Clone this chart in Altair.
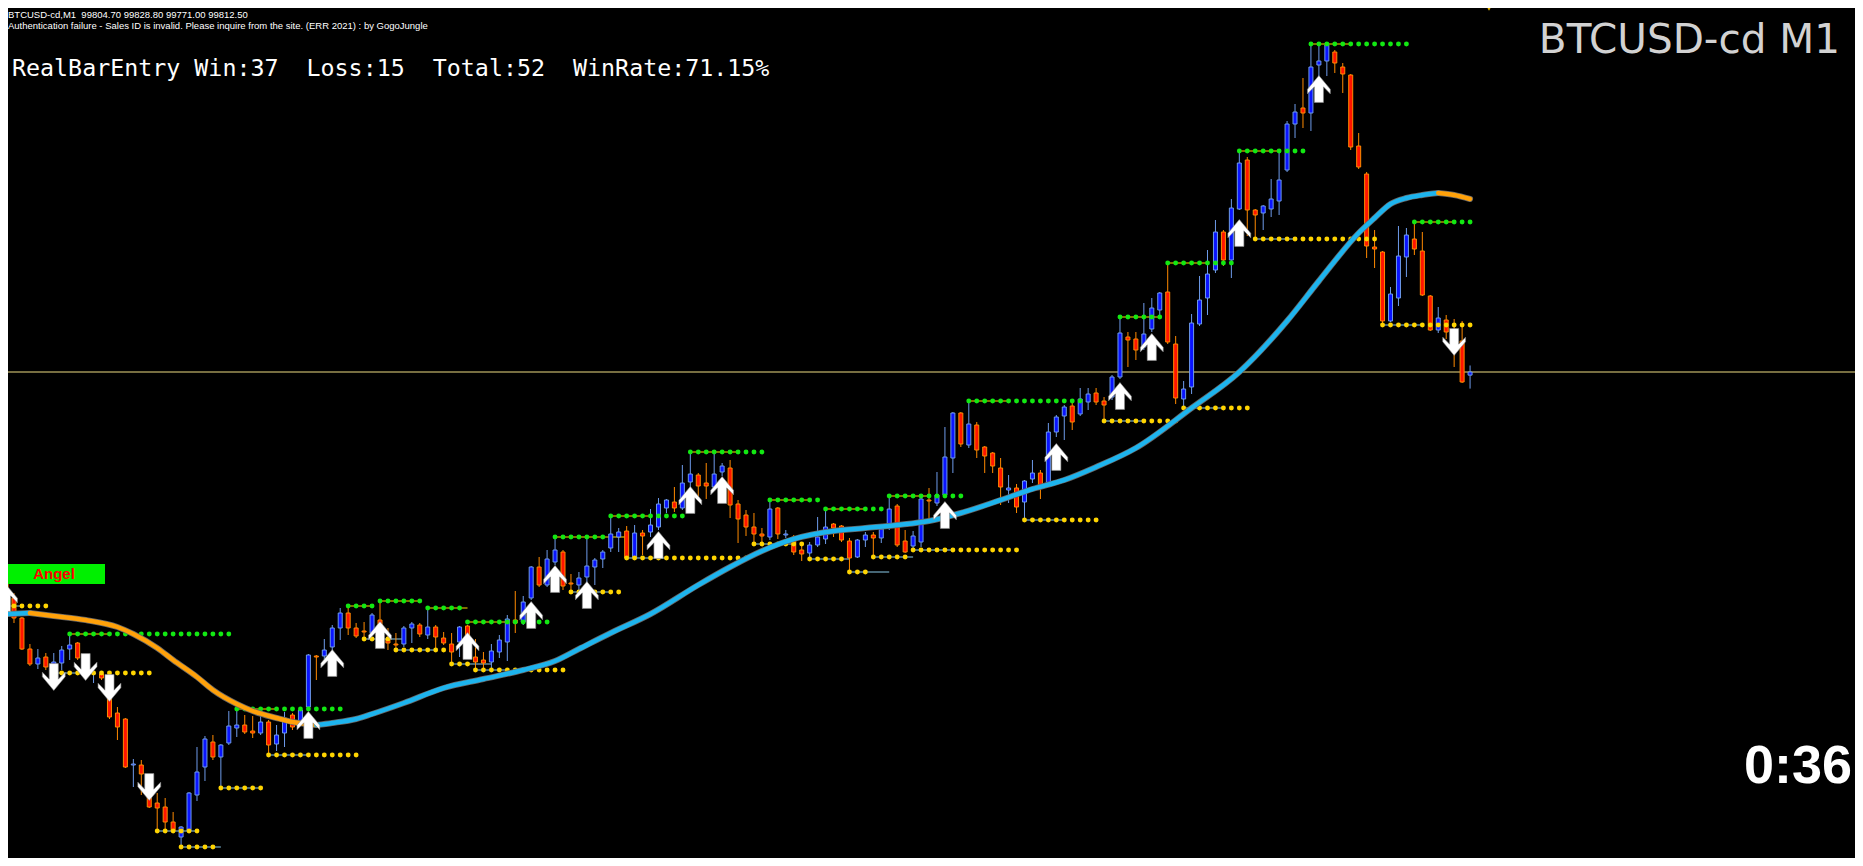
import altair as alt
import pandas as pd

W, H = 1847, 850
OFF = 8  # page margin: reference pixel (X, Y) sits at chart pixel (X - 8, Y - 8)


def px(v):
    return v - OFF


def py(v):
    return v - OFF


# ---------------- candle data (BTCUSD-cd, M1) ----------------
opens = [99307.5, 99247.5, 99197.5, 99120, 99082.5, 99100, 99075, 99085, 99120, 99135,
         99092.5, 99057.5, 99057.5, 99000, 98960, 98945, 98830, 98830, 98760, 98735,
         98725, 98687.5, 98650, 98665, 98755, 98825, 98887.5, 98850, 98885, 98922.5,
         98930, 98915, 98910, 98937.5, 98882.5, 98910, 98955, 98937.5, 98975, 99102.5,
         99102.5, 99125, 99172.5, 99210, 99172.5, 99165, 99160, 99192.5, 99145, 99132.5,
         99132.5, 99172.5, 99180, 99155, 99175, 99147.5, 99132.5, 99137.5, 99177.5, 99100,
         99092.5, 99087.5, 99112.5, 99137.5, 99192.5, 99187.5, 99247.5, 99325, 99280, 99337.5,
         99362.5, 99285, 99280, 99300, 99325, 99345, 99372.5, 99400, 99415, 99347.5,
         99410, 99412.5, 99425, 99472.5, 99487.5, 99472.5, 99537.5, 99555, 99535, 99525,
         99562.5, 99572.5, 99482.5, 99455, 99425, 99407.5, 99400, 99472.5, 99405, 99400,
         99367.5, 99360, 99380, 99395, 99432.5, 99427.5, 99390, 99350, 99392.5, 99405,
         99397.5, 99425, 99477.5, 99390, 99377.5, 99387.5, 99492.5, 99485, 99505, 99597.5,
         99710, 99630, 99680, 99625, 99610, 99572.5, 99517.5, 99522.5, 99487.5, 99545,
         99560, 99530, 99662.5, 99702.5, 99727.5, 99707.5, 99737.5, 99760, 99740, 99750,
         99800, 99900, 99895, 99875, 99920, 99967.5, 100012.5, 99882.5, 99745, 99775,
         99932.5, 99997.5, 100067.5, 100162.5, 100092.5, 100220, 100342.5, 100217.5, 100210, 100220,
         100240, 100317.5, 100432.5, 100472.5, 100460, 100580, 100590, 100612.5, 100575, 100555,
         100377.5, 100307.5, 100125, 100112.5, 99940, 99997.5, 100100, 100145, 100115, 100002.5,
         99917.5, 99942.5, 99917.5, 99890, 99804.70]
highs = [99327.5, 99260, 99200, 99132.5, 99120, 99110, 99110, 99127.5, 99155, 99137.5,
         99105, 99072.5, 99060, 99017.5, 98975, 98947.5, 98845, 98842.5, 98780, 98760,
         98747.5, 98712.5, 98677.5, 98762.5, 98875, 98902.5, 98905, 98882.5, 98965, 98972.5,
         98955, 98952.5, 98955, 98942.5, 98930, 98962.5, 98960, 98975, 99107.5, 99105,
         99145, 99180, 99222.5, 99225, 99185, 99187.5, 99210, 99235, 99172.5, 99160,
         99177.5, 99187.5, 99185, 99222.5, 99180, 99162.5, 99160, 99177.5, 99180, 99145,
         99112.5, 99132.5, 99155, 99205, 99265, 99252.5, 99327.5, 99350, 99367.5, 99395,
         99367.5, 99307.5, 99312.5, 99395, 99347.5, 99367.5, 99452.5, 99422.5, 99427.5, 99430,
         99417.5, 99470, 99497.5, 99495, 99525, 99580, 99610, 99560, 99585, 99610,
         99585, 99592.5, 99492.5, 99467.5, 99460, 99422.5, 99487.5, 99475, 99417.5, 99405,
         99382.5, 99387.5, 99450, 99467.5, 99435, 99430, 99397.5, 99395, 99412.5, 99412.5,
         99430, 99502.5, 99482.5, 99417.5, 99415, 99500, 99522.5, 99562.5, 99675, 99712.5,
         99712.5, 99737.5, 99687.5, 99627.5, 99612.5, 99597.5, 99555, 99532.5, 99542.5, 99592.5,
         99567.5, 99685, 99705, 99730, 99735, 99772.5, 99772.5, 99772.5, 99750, 99805,
         99950, 99912.5, 99912.5, 99985, 99997.5, 100012.5, 100085, 99902.5, 99790, 99957.5,
         100052.5, 100117.5, 100192.5, 100167.5, 100245, 100362.5, 100350, 100220, 100230, 100295,
         100362.5, 100440, 100482.5, 100547.5, 100630, 100630, 100635, 100617.5, 100585, 100557.5,
         100410, 100312.5, 100167.5, 100115, 100025, 100177.5, 100172.5, 100185, 100162.5, 100005,
         99975, 99955, 99945, 99940, 99828.80]
lows = [99235, 99185, 99117.5, 99077.5, 99070, 99067.5, 99067.5, 99067.5, 99092.5, 99092.5,
        99055, 99035, 99042.5, 98945, 98892.5, 98822.5, 98775, 98755, 98722.5, 98662.5,
        98662.5, 98662.5, 98627.5, 98662.5, 98740, 98790, 98842.5, 98767.5, 98880, 98900,
        98907.5, 98897.5, 98905, 98855, 98865, 98875, 98917.5, 98930, 98972.5, 99042.5,
        99095, 99117.5, 99142.5, 99155, 99147.5, 99142.5, 99155, 99155, 99117.5, 99117.5,
        99125, 99135, 99150, 99145, 99117.5, 99130, 99080, 99100, 99130, 99067.5,
        99067.5, 99067.5, 99097.5, 99090, 99160, 99180, 99242.5, 99275, 99275, 99330,
        99267.5, 99260, 99267.5, 99275, 99280, 99322.5, 99362.5, 99362.5, 99342.5, 99342.5,
        99355, 99400, 99417.5, 99460, 99462.5, 99467.5, 99497.5, 99500, 99495, 99517.5,
        99552.5, 99447.5, 99385, 99402.5, 99382.5, 99382.5, 99392.5, 99395, 99397.5, 99355,
        99340, 99340, 99375, 99382.5, 99400, 99387.5, 99312.5, 99347.5, 99375, 99350,
        99385, 99417.5, 99375, 99360, 99365, 99375, 99447.5, 99477.5, 99500, 99560,
        99625, 99622.5, 99597.5, 99560, 99560, 99480, 99485, 99460, 99442.5, 99535,
        99495, 99525, 99650, 99642.5, 99667.5, 99702.5, 99717.5, 99730, 99692.5, 99742.5,
        99795, 99825, 99842.5, 99867.5, 99912.5, 99950, 99882.5, 99732.5, 99722.5, 99757.5,
        99927.5, 99955, 100060, 100077.5, 100047.5, 100217.5, 100152.5, 100142.5, 100167.5, 100200,
        100205, 100312.5, 100397.5, 100422.5, 100415, 100515, 100552.5, 100560, 100510, 100367.5,
        100320, 100097.5, 100072.5, 99932.5, 99937.5, 99977.5, 100050, 100105, 100002.5, 99915,
        99910, 99895, 99825, 99785, 99771.00]
closes = [99242.5, 99197.5, 99120, 99082.5, 99097.5, 99075, 99087.5, 99117.5, 99130, 99097.5,
          99082.5, 99060, 99047.5, 98950, 98925, 98825, 98832.5, 98807.5, 98725, 98722.5,
          98687.5, 98665, 98675, 98760, 98812.5, 98895, 98850, 98880, 98927.5, 98930,
          98912.5, 98910, 98937.5, 98880, 98905, 98947.5, 98925, 98967.5, 99105, 99100,
          99117.5, 99172.5, 99210, 99172.5, 99152.5, 99162.5, 99205, 99160, 99135, 99130,
          99172.5, 99182.5, 99157.5, 99175, 99150, 99135, 99112.5, 99175, 99150, 99087.5,
          99085, 99115, 99142.5, 99195, 99185, 99237.5, 99325, 99280, 99345, 99367.5,
          99277.5, 99282.5, 99297.5, 99327.5, 99342.5, 99362.5, 99407.5, 99412.5, 99347.5, 99410,
          99402.5, 99430, 99482.5, 99492.5, 99472.5, 99535, 99557.5, 99527.5, 99527.5, 99557.5,
          99577.5, 99480, 99445, 99425, 99407.5, 99402.5, 99470, 99407.5, 99407.5, 99362.5,
          99357.5, 99380, 99400, 99425, 99422.5, 99392.5, 99347.5, 99392.5, 99405, 99397.5,
          99420, 99470, 99380, 99362.5, 99402.5, 99495, 99490, 99505, 99600, 99710,
          99632.5, 99682.5, 99617.5, 99602.5, 99577.5, 99525, 99522.5, 99475, 99540, 99560,
          99525, 99662.5, 99700, 99725, 99687.5, 99745, 99757.5, 99737.5, 99730, 99800,
          99910, 99892.5, 99867.5, 99907.5, 99972.5, 100010, 99887.5, 99747.5, 99770, 99935,
          99992.5, 100057.5, 100162.5, 100092.5, 100222.5, 100335, 100217.5, 100205, 100227.5, 100245,
          100292.5, 100432.5, 100462.5, 100460, 100575, 100590, 100630, 100585, 100557.5, 100375,
          100325, 100127.5, 100120, 99940, 100007.5, 100102.5, 100155, 100120, 100005, 99917.5,
          99947.5, 99912.5, 99905, 99787.5, 99812.50]

# ---------------- moving average (read at sampled bars) ----------------
ma_bar = [0, 3, 6, 10, 14, 16, 19, 21, 24, 26, 29, 31, 34, 36, 39, 41, 44, 46, 50, 55,
          60, 65, 69, 72, 76, 81, 87, 91, 95, 99, 104, 108, 112, 116, 120, 125, 129, 133, 137, 142,
          149, 155, 161, 165, 170, 172, 174, 176, 178, 180, 182, 184]
ma_val = [99207.5, 99210, 99202.5, 99192.5, 99175, 99157.5, 99122.5, 99092.5, 99050, 99017.5,
          98982.5, 98965, 98947.5, 98937.5, 98930, 98935, 98945, 98957.5, 98985, 99022.5,
          99045, 99067.5, 99090, 99120, 99160, 99207.5, 99280, 99325, 99365, 99395,
          99415, 99422.5, 99430, 99440, 99460, 99492.5, 99520, 99542.5, 99575, 99622.5,
          99722.5, 99812.5, 99940, 100040, 100160, 100197.5, 100232.5, 100247.5, 100255, 100260,
          100255, 100245]

# ---------------- resistance (green) / support (yellow) levels ----------------
res_price = [99312.5, 99157.5, 98970, 99227.5, 99240, 99222.5, 99187.5, 99400, 99452.5, 99612.5,
             99492.5, 99470, 99502.5, 99740, 99950, 100085, 100365, 100632.5, 100187.5]
res_start = [0, 8, 29, 43, 47, 53, 58, 69, 76, 86, 96, 103, 111, 121, 140, 146, 155, 164, 177]
res_end = [4, 28, 42, 46, 52, 57, 68, 75, 85, 95, 102, 110, 120, 135, 145, 154, 163, 176, 184]
res_line_end = [4, 13, 34, 46, 52, 58, 63, 78, 81, 92, 101, 108, 116, 126, 145, 151, 160, 169, 182]

sup_price = [99227.5, 99060, 98665, 98625, 98772.5, 98855, 99145, 99117.5, 99082.5, 99067.5,
             99262.5, 99347.5, 99382.5, 99345, 99312.5, 99350, 99367.5, 99442.5, 99690, 99722.5,
             100145, 99930]
sup_start = [0, 6, 19, 22, 27, 33, 45, 49, 56, 59, 71, 78, 94, 101, 106, 109, 114, 128, 138, 148, 157, 173]
sup_end = [5, 18, 24, 26, 32, 44, 48, 55, 58, 70, 77, 93, 100, 105, 108, 113, 127, 137, 147, 156, 172, 184]
sup_line_end = [2, 11, 24, 27, 32, 38, 50, 54, 61, 63, 76, 83, 99, 106, 111, 114, 119, 133, 143, 153, 162, 178]

# ---------------- entry arrows ----------------
up_bar = [0, 38, 41, 47, 58, 66, 69, 73, 82, 86, 90, 118, 132, 140, 144, 155, 165]
up_price = [99247.5, 98930, 99085, 99155, 99127.5, 99205, 99295, 99255, 99380, 99492.5,
            99517.5, 99455, 99600, 99752.5, 99875, 100160, 100520]
down_bar = [6, 10, 13, 18, 182]
down_price = [99050, 99075, 99022.5, 98775, 99887.5]

bid_price = [99812.50]

# ---------------- build tables ----------------
candles = pd.DataFrame({"i": list(range(len(opens))), "open": opens, "high": highs,
                        "low": lows, "close": closes})
candles["dir"] = ["up" if c >= o else "down" for o, c in zip(opens, closes)]

rows = []
run = 0
prev = None
for k in range(len(ma_bar) - 1):
    state = "rise" if ma_val[k + 1] >= ma_val[k] else "fall"
    if state != prev:
        run += 1
        rows.append({"i": ma_bar[k], "v": ma_val[k], "run": run, "state": state})
        prev = state
    rows.append({"i": ma_bar[k + 1], "v": ma_val[k + 1], "run": run, "state": state})
ma_df = pd.DataFrame(rows)

res_df = pd.DataFrame({"p": res_price, "s": res_start, "le": res_line_end})
sup_df = pd.DataFrame({"p": sup_price, "s": sup_start, "le": sup_line_end})
res_dots = pd.DataFrame([{"i": j, "p": p} for p, s, e in zip(res_price, res_start, res_end)
                         for j in range(s, e + 1)])
sup_dots = pd.DataFrame([{"i": j, "p": p} for p, s, e in zip(sup_price, sup_start, sup_end)
                         for j in range(s, e + 1)])
up_df = pd.DataFrame({"i": up_bar, "p": up_price})
down_df = pd.DataFrame({"i": down_bar, "p": down_price})
bid_df = pd.DataFrame({"p": bid_price})

# bar i sits at reference pixel 1 + 8*i; price falls 2.5 per reference pixel
xs = alt.Scale(domain=[0.875, 231.75], nice=False, zero=False)
ys = alt.Scale(domain=[98597.5, 100722.5], nice=False, zero=False)


def X(f):
    return alt.X(f, type="quantitative", scale=xs, axis=None)


def Y(f):
    return alt.Y(f, type="quantitative", scale=ys, axis=None)


stroke_scale = alt.Scale(domain=["up", "down"], range=["#6E9BEA", "#FF8A00"])
fill_scale = alt.Scale(domain=["up", "down"], range=["#0A14FF", "#FF1400"])

one = alt.Data(values=[{"k": 0}])

layers = []

# level lines
layers.append(alt.Chart(res_df).mark_rule(color="#FFE000", strokeWidth=1, clip=True).encode(
    x=X("s"), x2=alt.X2("le"), y=Y("p")))
layers.append(alt.Chart(sup_df).mark_rule(color="#8CCBEA", strokeWidth=1, clip=True).encode(
    x=X("s"), x2=alt.X2("le"), y=Y("p")))

# bid line
layers.append(alt.Chart(bid_df).mark_rule(color="#EEDC82", strokeWidth=1).encode(
    y=Y("p"), x=alt.value(0), x2=alt.value(W)))

# candles
layers.append(alt.Chart(candles).mark_rule(strokeWidth=1, clip=True).encode(
    x=X("i"), y=Y("low"), y2=alt.Y2("high"),
    stroke=alt.Stroke("dir:N", scale=stroke_scale, legend=None)))
layers.append(alt.Chart(candles).mark_bar(size=4, strokeWidth=1, clip=True).encode(
    x=X("i"), y=Y("open"), y2=alt.Y2("close"),
    fill=alt.Fill("dir:N", scale=fill_scale, legend=None),
    stroke=alt.Stroke("dir:N", scale=stroke_scale, legend=None)))

# level dots
layers.append(alt.Chart(res_dots).mark_point(shape="circle", filled=True, size=24, color="#12E812",
                                             opacity=1, clip=True).encode(x=X("i"), y=Y("p")))
layers.append(alt.Chart(sup_dots).mark_point(shape="circle", filled=True, size=24, color="#FFD400",
                                             opacity=1, clip=True).encode(x=X("i"), y=Y("p")))

# moving average
layers.append(alt.Chart(ma_df).mark_line(strokeWidth=6, color="#666666", interpolate="monotone",
                                         strokeCap="round", clip=True).encode(
    x=X("i"), y=Y("v"), detail="run:N"))
layers.append(alt.Chart(ma_df).mark_line(strokeWidth=4.5, interpolate="monotone",
                                         strokeCap="round", clip=True).encode(
    x=X("i"), y=Y("v"), detail="run:N",
    color=alt.Color("state:N", scale=alt.Scale(domain=["rise", "fall"],
                                               range=["#1DB4EE", "#FFA10A"]), legend=None)))

# arrows
UP = "M0,-1L0.85,0.02L0.85,0.36L0.34,-0.16L0.34,1L-0.34,1L-0.34,-0.16L-0.85,0.36L-0.85,0.02Z"
DOWN = "M0,1L0.85,-0.02L0.85,-0.36L0.34,0.16L0.34,-1L-0.34,-1L-0.34,0.16L-0.85,-0.36L-0.85,-0.02Z"
layers.append(alt.Chart(up_df).mark_point(shape=UP, filled=True, color="#FFFFFF", size=720,
                                          stroke="#8a8a8a", strokeWidth=0.6,
                                          opacity=1, clip=True).encode(x=X("i"), y=Y("p")))
layers.append(alt.Chart(down_df).mark_point(shape=DOWN, filled=True, color="#FFFFFF", size=720,
                                            stroke="#8a8a8a", strokeWidth=0.6,
                                            opacity=1, clip=True).encode(x=X("i"), y=Y("p")))

# Angel label
layers.append(alt.Chart(one).mark_rect(color="#00F000").encode(
    x=alt.value(px(6)), x2=alt.value(px(105)), y=alt.value(py(564)), y2=alt.value(py(584))))
layers.append(alt.Chart(one).mark_text(text="Angel", font="Liberation Sans", fontWeight="bold",
                                       fontSize=15, color="#FF0000", align="center",
                                       baseline="alphabetic").encode(
    x=alt.value(px(54)), y=alt.value(py(579))))

# chart-shift marker
layers.append(alt.Chart(one).mark_point(shape="triangle-down", filled=True, color="#E8B800",
                                        size=40, opacity=1).encode(
    x=alt.value(px(1489)), y=alt.value(0)))

NB = "\u00a0"
texts = [
    ("BTCUSD-cd,M1" + NB * 2 + "99804.70 99828.80 99771.00 99812.50", 8, 17.5, "Liberation Sans",
     "normal", 9.5, "#FFFFFF", "left"),
    ("Authentication failure - Sales ID is invalid. Please inquire from the site. (ERR 2021) : by GogoJungle",
     8, 28.5, "Liberation Sans", "normal", 9.5, "#FFFFFF", "left"),
    ("RealBarEntry Win:37" + NB * 2 + "Loss:15" + NB * 2 + "Total:52" + NB * 2 + "WinRate:71.15%",
     12, 76, "DejaVu Sans Mono", "normal", 23.3, "#FFFFFF", "left"),
    ("BTCUSD-cd M1", 1840, 53, "DejaVu Sans", "normal", 40.5, "#D2D2D2", "right"),
    ("0:36", 1852, 783, "Liberation Sans", "bold", 54, "#FFFFFF", "right"),
]
for t, tx, ty, font, fw, fs, col, al in texts:
    layers.append(alt.Chart(one).mark_text(text=t, font=font, fontWeight=fw, fontSize=fs,
                                           color=col, align=al, baseline="alphabetic").encode(
        x=alt.value(px(tx)), y=alt.value(py(ty))))

chart = alt.layer(*layers).properties(
    width=W, height=H, background="#000000", padding=0,
    autosize=alt.AutoSizeParams(type="none"),
).configure_view(strokeWidth=0)

chart.save("out.html", embed_options={"renderer": "svg", "actions": False})
